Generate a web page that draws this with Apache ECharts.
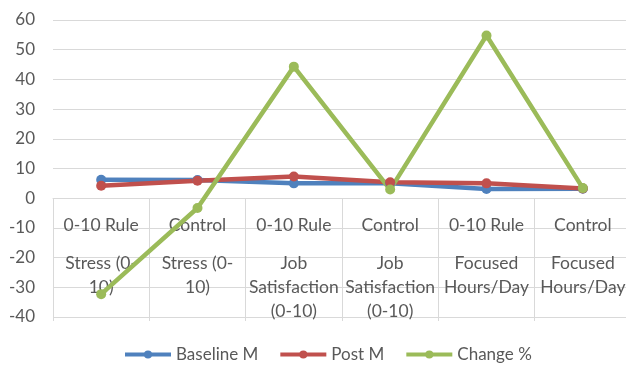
<!DOCTYPE html>
<html>
<head>
<meta charset="utf-8">
<script src="https://cdn.jsdelivr.net/npm/echarts@6/dist/echarts.min.js"></script>
<style>
  html, body { margin: 0; padding: 0; background: #fff; }
  #chart { width: 626px; height: 370px; }
</style>
</head>
<body>
<div id="chart"></div>
<script>
const groups = ['0-10 Rule', 'Control', '0-10 Rule', 'Control', '0-10 Rule', 'Control']
const measures = ['Stress (0-\n10)', 'Stress (0-\n10)', 'Job\nSatisfaction\n(0-10)', 'Job\nSatisfaction\n(0-10)', 'Focused\nHours/Day', 'Focused\nHours/Day']
const baseline = [6.2, 6.1, 5.0, 5.0, 3.1, 3.2]
const post = [4.2, 5.9, 7.3, 5.4, 5.0, 3.3]
const change = [-32.3, -3.3, 44.3, 2.9, 54.8, 3.4]

const categories = groups.map((g, i) => g + '|' + measures[i])

const chart = echarts.init(document.getElementById('chart'))
const textColor = '#595959'
const gridColor = '#d9d9d9'
const font = 'Lato'

const lineSeries = (name, data, color) => ({
  name,
  type: 'line',
  data,
  symbol: 'circle',
  symbolSize: 10,
  lineStyle: { color, width: 4.5 },
  itemStyle: { color },
  emphasis: { disabled: true },
})

chart.setOption({
  animation: false,
  grid: { left: 53, right: -5, top: 20, bottom: 53, containLabel: false, outerBoundsMode: 'none' },
  legend: {
    left: 118,
    bottom: 2,
    itemWidth: 46,
    itemHeight: 10,
    itemGap: 20,
    lineStyle: { width: 4 },
    textStyle: { color: textColor, fontSize: 17, fontFamily: font },
    data: ['Baseline M', 'Post M', 'Change %'],
  },
  xAxis: {
    type: 'category',
    data: categories,
    position: 'bottom',
    offset: -119, // axis sits on the zero line, like Excel
    axisLine: { onZero: false, lineStyle: { color: gridColor, width: 1 } },
    axisTick: { show: true, length: 123, lineStyle: { color: gridColor } },
    axisLabel: {
      margin: 1,
      interval: 0,
      formatter: (v) => {
        const [g, m] = v.split('|')
        return '{a|' + g + '}\n' + m.split('\n').map((s) => '{b|' + s + '}').join('\n')
      },
      rich: {
        a: { lineHeight: 52, fontSize: 17.5, color: textColor, fontFamily: font },
        b: { lineHeight: 24, fontSize: 17.5, color: textColor, fontFamily: font },
      },
    },
  },
  yAxis: {
    type: 'value',
    min: -40,
    max: 60,
    interval: 10,
    axisLine: { show: false },
    axisTick: { show: false },
    axisLabel: { color: textColor, fontSize: 17, fontFamily: font, margin: 18 },
    splitLine: { lineStyle: { color: gridColor, width: 1 } },
  },
  series: [
    lineSeries('Baseline M', baseline, '#4F81BD'),
    lineSeries('Post M', post, '#C0504D'),
    lineSeries('Change %', change, '#9BBB59'),
  ],
})
</script>
</body>
</html>
